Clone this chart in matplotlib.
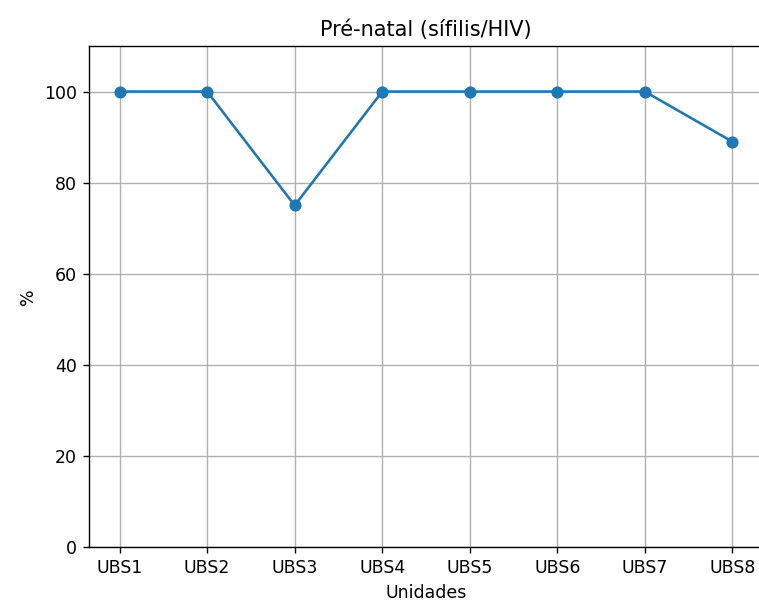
import matplotlib
matplotlib.use('Agg')
import matplotlib.pyplot as plt

unidades = ['UBS1', 'UBS2', 'UBS3', 'UBS4', 'UBS5', 'UBS6', 'UBS7', 'UBS8']
percentuais = [100, 100, 75, 100, 100, 100, 100, 89]

W, H = 759, 604
DPI = 125
fig = plt.figure(figsize=(W / DPI, H / DPI), dpi=DPI)
# eixos: esquerda 89px, borda direita fica fora da imagem (cortada), topo 46px, base 547px
ax = fig.add_axes([89 / W, (H - 547) / H, 674 / W, (547 - 46) / H])
ax.plot(unidades, percentuais, marker='o')
ax.set_title('Pré-natal (sífilis/HIV)')
ax.set_xlabel('Unidades')
ax.set_ylabel('%')
ax.set_ylim(0, 110)
ax.grid(True)
fig.savefig('out.png', dpi=DPI)
